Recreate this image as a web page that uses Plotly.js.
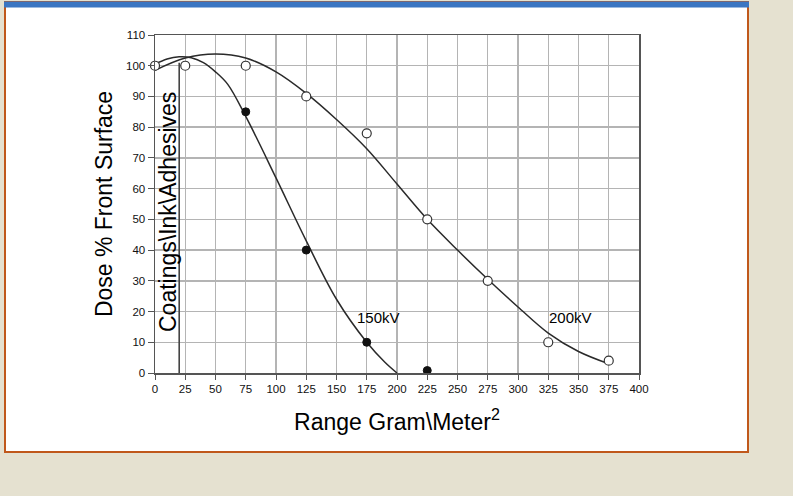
<!DOCTYPE html>
<html>
<head>
<meta charset="utf-8">
<script src="https://cdn.plot.ly/plotly-3.0.1.min.js"></script>
<style>html,body{margin:0;padding:0;background:#e5e1d0;}</style>
</head>
<body>
<div id="chart" style="width:793px;height:496px;"></div>
<script>
// Measured points
const pts200x = [0, 25, 75, 125, 175, 225, 275, 325, 375];
const pts200y = [100, 100, 100, 90, 78, 50, 30, 10, 4];
const pts150x = [75, 125, 175, 225];
const pts150y = [85, 40, 10, 0.8];

// Fitted curves as drawn in the figure
const curve150x = [0, 10, 20, 30, 40, 50, 60, 75, 100, 125, 150, 175, 190, 200];
const curve150y = [100.5, 102.2, 102.9, 102.6, 101, 98, 94, 83.5, 63.5, 43, 24, 10, 3.5, 0];
const curve200x = [0, 25, 50, 75, 100, 125, 150, 175, 200, 225, 250, 275, 300, 325, 350, 375];
const curve200y = [98.5, 102.5, 103.8, 102.5, 98, 91, 82.5, 73, 61.5, 50, 40, 30.5, 21.5, 13, 7, 3];

// Boundary line for the coatings region
const boundaryX = [20, 20];
const boundaryY = [0, 101];

// Labels
const xTicks = [0, 25, 50, 75, 100, 125, 150, 175, 200, 225, 250, 275, 300, 325, 350, 375, 400];
const yTicks = [0, 10, 20, 30, 40, 50, 60, 70, 80, 90, 100, 110];
const seriesLabels = ["150kV", "200kV"];
const labelX = [185, 343];
const labelY = [18, 18];

const lineCol = '#2a2a2a';
const traces = [
  {x: curve150x, y: curve150y, mode: 'lines', line: {shape: 'spline', color: lineCol, width: 1.5}, hoverinfo: 'skip'},
  {x: curve200x, y: curve200y, mode: 'lines', line: {shape: 'spline', color: lineCol, width: 1.5}, hoverinfo: 'skip'},
  {x: boundaryX, y: boundaryY, mode: 'lines', line: {color: '#444', width: 1.6}, hoverinfo: 'skip'},
  {x: pts150x, y: pts150y, mode: 'markers', cliponaxis: false, marker: {symbol: 'circle', size: 8, color: '#111', line: {color: '#111', width: 1}}},
  {x: pts200x, y: pts200y, mode: 'markers', cliponaxis: false, marker: {symbol: 'circle', size: 9, color: '#fff', line: {color: '#333', width: 1.2}}}
];

const L = 155, R = 639, T = 35, B = 373;
const W = R - L, H = B - T;
const px = v => (v - L) / W;
const py = v => (B - v) / H;

const layout = {
  width: 793, height: 496,
  margin: {l: L, r: 793 - R, t: T, b: 496 - B},
  paper_bgcolor: '#e5e1d0',
  plot_bgcolor: '#ffffff',
  showlegend: false,
  font: {family: 'Liberation Sans, Arial, sans-serif', color: '#111'},
  xaxis: {
    range: [0, 400], tickvals: xTicks, ticktext: xTicks.map(String),
    showgrid: true, gridcolor: '#b4b4b4', gridwidth: 1.4,
    zeroline: false, showline: true, linecolor: '#555', linewidth: 1.5, mirror: true,
    ticks: 'outside', ticklen: 5, tickcolor: '#555',
    tickfont: {size: 11.5, color: '#111'},
    title: {text: 'Range Gram\\Meter<sup>2</sup>', font: {size: 23, color: '#000'}, standoff: 19}
  },
  yaxis: {
    range: [0, 110], tickvals: yTicks, ticktext: yTicks.map(String),
    showgrid: true, gridcolor: '#b4b4b4', gridwidth: 1.4,
    zeroline: false, showline: true, linecolor: '#555', linewidth: 1.5, mirror: true,
    ticks: 'outside', ticklen: 6, tickcolor: '#555',
    tickfont: {size: 11.5, color: '#111'},
    title: {text: 'Dose % Front Surface', font: {size: 23, color: '#000'}, standoff: 7}
  },
  shapes: [
    {type: 'rect', xref: 'paper', yref: 'paper', layer: 'below',
     x0: px(5), x1: px(748), y0: py(452), y1: py(2),
     fillcolor: '#ffffff', line: {color: '#c0581b', width: 2}},
    {type: 'rect', xref: 'paper', yref: 'paper', layer: 'below',
     x0: px(4), x1: px(749), y0: py(7.5), y1: py(1.5),
     fillcolor: '#3b76c2', line: {width: 0}}
  ],
  annotations: [
    {text: 'Coatings\\Ink\\Adhesives', xref: 'paper', yref: 'paper', x: px(168), y: py(212),
     showarrow: false, textangle: -90, font: {size: 23, color: '#000'}, xanchor: 'center', yanchor: 'middle'},
    {text: seriesLabels[0], x: labelX[0], y: labelY[0], xref: 'x', yref: 'y', showarrow: false, font: {size: 15, color: '#000'}},
    {text: seriesLabels[1], x: labelX[1], y: labelY[1], xref: 'x', yref: 'y', showarrow: false, font: {size: 15, color: '#000'}}
  ]
};

Plotly.newPlot('chart', traces, layout, {staticPlot: true, displayModeBar: false});
</script>
</body>
</html>
